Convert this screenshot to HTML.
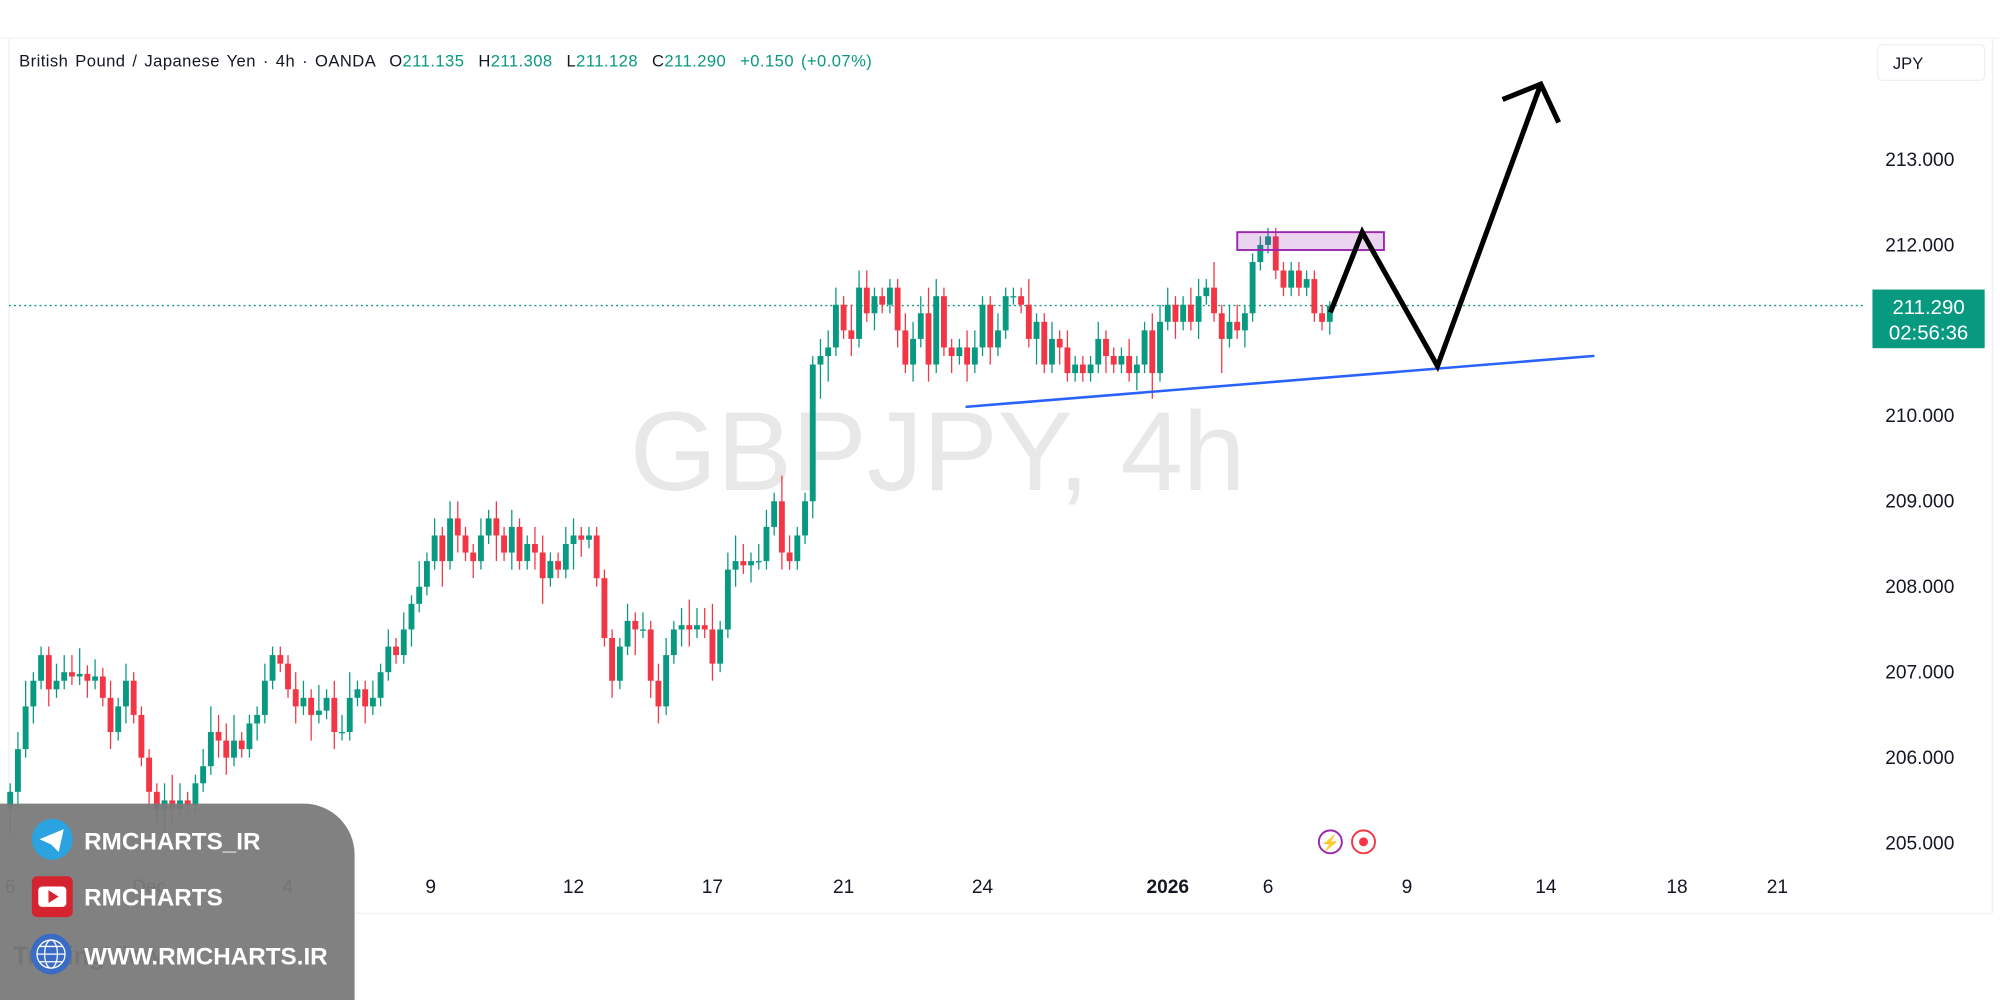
<!DOCTYPE html>
<html><head><meta charset="utf-8"><style>
html,body{margin:0;padding:0;background:#fff;}
svg{display:block;font-family:"Liberation Sans",sans-serif;}
</style></head><body>
<svg id="chart" width="2000" height="1000" viewBox="0 0 1568 784" xmlns="http://www.w3.org/2000/svg">
<rect x="0" y="0" width="1568" height="784" fill="#fff"/>
<line x1="0" y1="30" x2="1568" y2="30" stroke="#f0f3fa"/>
<line x1="7" y1="30" x2="7" y2="716" stroke="#eef0f4"/>
<line x1="7" y1="716" x2="1562" y2="716" stroke="#eef0f4"/>
<line x1="1562" y1="30" x2="1562" y2="716" stroke="#eef0f4"/>
<text x="735" y="384" font-size="88" fill="#e8e8e8" text-anchor="middle">GBPJPY, 4h</text>
<g id="grid"></g>
<g id="xaxis"></g>
<line id="lastline" x1="7" x2="1462" stroke="#089981" stroke-dasharray="1.5,2.5" stroke-width="1"/>
<g id="candles"></g>
<rect x="970" y="182" width="115" height="14" fill="#9c27b0" fill-opacity="0.2" stroke="#9c27b0" stroke-width="1.5"/>
<line x1="757" y1="319" x2="1250" y2="279" stroke="#2962ff" stroke-width="2"/>
<polyline points="1043,245 1068,182 1127,287 1208,66" fill="none" stroke="#000" stroke-width="4" stroke-linejoin="miter"/>
<polyline points="1178,78 1208,66 1222,96" fill="none" stroke="#000" stroke-width="4"/>
<text x="15" y="52" font-size="13" letter-spacing="0.35" word-spacing="1.5" fill="#131722" xml:space="preserve">British Pound / Japanese Yen · 4h · OANDA  O<tspan fill="#089981">211.135</tspan>  H<tspan fill="#089981">211.308</tspan>  L<tspan fill="#089981">211.128</tspan>  C<tspan fill="#089981">211.290</tspan>  <tspan fill="#089981">+0.150 (+0.07%)</tspan></text>
<rect x="1472" y="35" width="84" height="28" rx="4" fill="#fff" stroke="#eef0f4"/>
<text x="1484" y="54" font-size="13" fill="#131722">JPY</text>
<rect x="1468" y="227" width="88" height="46" fill="#089981"/>
<text x="1512" y="246" font-size="16" fill="#fff" text-anchor="middle">211.290</text>
<text x="1512" y="266" font-size="16" fill="#fff" text-anchor="middle">02:56:36</text>
<circle cx="1043" cy="660" r="9" fill="#fff" stroke="#9c27b0" stroke-width="1.5"/>
<text x="1043" y="665" font-size="12" fill="#9c27b0" text-anchor="middle">⚡</text>
<circle cx="1069" cy="660" r="9" fill="#fff" stroke="#f23645" stroke-width="1.5"/>
<circle cx="1069" cy="660" r="3.5" fill="#f23645"/>
<text x="10" y="756" font-size="20" font-weight="bold" fill="#131722">TradingView</text>
<path d="M0,630 H238 A40,40 0 0 1 278,670 V784 H0 Z" fill="#7a7a7a" fill-opacity="0.95"/>
<circle cx="41" cy="658" r="16" fill="#2aa3e0"/>
<path d="M31,658 L50,650 L46,668 L40,662 Z" fill="#fff"/>
<text x="66" y="666" font-size="19" font-weight="bold" fill="#fff">RMCHARTS_IR</text>
<rect x="25" y="687" width="32" height="32" rx="4" fill="#d5232f"/>
<rect x="30" y="695" width="22" height="16" rx="3" fill="#fff"/>
<path d="M38,698 L46,703 L38,708 Z" fill="#d5232f"/>
<text x="66" y="710" font-size="19" font-weight="bold" fill="#fff">RMCHARTS</text>
<circle cx="40" cy="748" r="16" fill="#3b6cc4"/>
<g stroke="#fff" stroke-width="1" fill="none"><circle cx="40" cy="748" r="11"/><ellipse cx="40" cy="748" rx="5" ry="11"/><line x1="29" y1="748" x2="51" y2="748"/><line x1="31" y1="742" x2="49" y2="742"/><line x1="31" y1="754" x2="49" y2="754"/></g>
<text x="66" y="756" font-size="19" font-weight="bold" fill="#fff">WWW.RMCHARTS.IR</text>
</svg>
<script>
const priceTicks = [213, 212, 211, 210, 209, 208, 207, 206, 205];
const priceLabels = ["213.000","212.000","","210.000","209.000","208.000","207.000","206.000","205.000"];
const dateLabels = ["6","Dec","4","9","12","17","21","24","2026","6","9","14","18","21"];
const dateIndex = [0, 18, 36, 54.5, 73, 91, 108, 126, 150, 163, 181, 199, 216, 229];
const lastPrice = 211.29;
const openFirst = 205.4;
const closes = [
205.6,206.1,206.6,206.9,207.2,206.8,206.9,207.0,206.95,206.98,206.9,206.95,
206.7,206.3,206.6,206.9,206.5,206.0,205.6,
205.4,205.5,205.4,205.5,205.45,205.7,205.9,206.3,206.2,206.0,206.2,206.1,
206.4,206.5,206.9,207.2,207.1,206.8,206.6,
206.7,206.5,206.55,206.7,206.3,206.3,206.7,206.8,206.6,206.7,
207.0,207.3,207.2,207.5,207.8,208.0,208.3,208.6,208.3,
208.8,208.6,208.4,208.3,208.6,208.8,208.6,208.4,208.7,208.3,208.5,208.4,208.1,208.3,208.2,208.5,208.6,208.55,208.6,
208.1,207.4,206.9,207.3,207.6,207.5,207.5,206.9,206.6,207.2,207.5,207.55,207.5,207.55,207.5,
207.1,207.5,208.2,208.3,208.25,208.3,208.3,208.7,209.0,208.4,208.3,208.6,209.0,
210.6,210.7,210.8,211.3,211.0,210.9,211.5,211.2,211.4,211.3,
211.5,211.0,210.6,210.9,211.2,210.6,211.4,210.8,210.7,210.8,210.6,
210.8,211.3,210.8,211.0,211.4,211.4,211.3,210.9,211.1,210.6,210.9,210.8,210.5,210.6,210.5,
210.6,210.9,210.7,210.6,210.7,210.5,210.6,211.0,210.5,211.1,211.3,211.1,
211.3,211.1,211.4,211.5,211.2,210.9,211.1,211.0,211.2,211.8,212.0,212.1,
211.7,211.5,211.7,211.5,211.6,211.2,211.1,211.29];
const wickUp = [0.1,0.2,0.3,0.1,0.1,0.1,0.2,0.2,0.2,0.3,0.1,0.2, 0.1,0.2,0.1,0.2,0.1,0.1,0.1, 0.1,0.2,0.3,0.2,0.1,0.1,0.2,0.3,0.2,0.2,0.3,0.1, 0.1,0.1,0.2,0.1,0.1,0.1,0.2, 0.2,0.1,0.3,0.1,0.2,0.2,0.3,0.1,0.1,0.2, 0.1,0.2,0.1,0.2,0.1,0.3,0.1,0.2,0.1, 0.2,0.2,0.1,0.1,0.2,0.1,0.2,0.1,0.2,0.1,0.1,0.2,0.2,0.1,0.1,0.2,0.2,0.1,0.1, 0.1,0.1,0.1,0.1,0.2,0.1,0.2,0.1,0.2,0.2,0.1,0.2,0.3,0.2,0.2, 0.3,0.1,0.2,0.3,0.2,0.1,0.2,0.2,0.1,0.3,0.2,0.1,0.1, 0.1,0.2,0.2,0.2,0.1,0.3,0.2,0.2,0.1,0.1, 0.1,0.1,0.2,0.2,0.2,0.3,0.2,0.1,0.1,0.1,0.2, 0.2,0.1,0.1,0.2,0.1,0.1,0.1,0.3,0.1,0.1,0.2,0.1,0.2,0.1,0.1, 0.1,0.2,0.1,0.1,0.1,0.2,0.1,0.1,0.2,0.2,0.2,0.1, 0.1,0.2,0.2,0.1,0.3,0.1,0.2,0.2,0.1,0.1,0.1,0.1, 0.1,0.1,0.1,0.1,0.1,0.1,0.1,0.05];
const wickDn = [0.3,0.2,0.1,0.2,0.1,0.2,0.1,0.1,0.1,0.1,0.2,0.1, 0.1,0.2,0.1,0.2,0.1,0.1,0.2, 0.2,0.3,0.2,0.1,0.1,0.1,0.1,0.1,0.2,0.2,0.1,0.1, 0.1,0.2,0.1,0.1,0.1,0.1,0.2, 0.1,0.3,0.1,0.1,0.2,0.1,0.1,0.1,0.2,0.1, 0.1,0.1,0.1,0.1,0.2,0.1,0.1,0.1,0.3, 0.1,0.2,0.1,0.2,0.1,0.1,0.3,0.1,0.2,0.1,0.1,0.2,0.3,0.1,0.1,0.1,0.3,0.2,0.1, 0.1,0.1,0.2,0.1,0.1,0.3,0.1,0.2,0.2,0.1,0.1,0.2,0.2,0.1,0.1, 0.2,0.1,0.1,0.2,0.1,0.2,0.1,0.1,0.1,0.2,0.1,0.1,0.1, 0.2,0.4,0.3,0.1,0.1,0.2,0.1,0.1,0.2,0.1, 0.1,0.2,0.1,0.2,0.1,0.2,0.1,0.1,0.2,0.1,0.2, 0.1,0.1,0.2,0.1,0.1,0.1,0.1,0.1,0.3,0.1,0.1,0.2,0.1,0.1,0.1, 0.1,0.1,0.2,0.1,0.1,0.1,0.2,0.1,0.3,0.1,0.1,0.2, 0.1,0.1,0.2,0.1,0.1,0.4,0.1,0.1,0.2,0.1,0.1,0.1, 0.1,0.1,0.1,0.1,0.1,0.1,0.1,0.15];

const NS = "http://www.w3.org/2000/svg";
function yOf(p){ return 125 + (213 - p) * 67; }
function xOf(i){ return 8 + i * 6.05; }

const grid = document.getElementById('grid');
priceTicks.forEach((p, k) => {
  if (!priceLabels[k]) return;
  const t = document.createElementNS(NS, 'text');
  
  
  t.setAttribute('x', 1478); t.setAttribute('y', yOf(p) + 5);
  t.setAttribute('font-size', '15'); t.setAttribute('fill', '#131722');
  t.textContent = priceLabels[k];
  grid.appendChild(t);
});
const xaxis = document.getElementById('xaxis');
dateLabels.forEach((d, k) => {
  const t = document.createElementNS(NS, 'text');
  
  
  t.setAttribute('x', xOf(dateIndex[k])); t.setAttribute('y', 700);
  t.setAttribute('font-size', '15'); t.setAttribute('fill', '#131722');
  t.setAttribute('text-anchor', 'middle');
  if (d === '2026') t.setAttribute('font-weight', 'bold');
  t.textContent = d;
  xaxis.appendChild(t);
});
const ll = document.getElementById('lastline');
ll.setAttribute('y1', yOf(lastPrice)); ll.setAttribute('y2', yOf(lastPrice));

const cg = document.getElementById('candles');
closes.forEach((c, i) => {
  const o = i === 0 ? openFirst : closes[i-1];
  const hi = Math.max(o, c) + wickUp[i];
  const lo = Math.min(o, c) - wickDn[i];
  const col = c >= o ? '#089981' : '#f23645';
  const x = xOf(i);
  const w = document.createElementNS(NS, 'line');
  
  
  w.setAttribute('x1', x); w.setAttribute('x2', x);
  w.setAttribute('y1', yOf(hi)); w.setAttribute('y2', yOf(lo));
  w.setAttribute('stroke', col); w.setAttribute('stroke-width', '1');
  cg.appendChild(w);
  const b = document.createElementNS(NS, 'rect');
  
  
  const top = yOf(Math.max(o, c)), bot = yOf(Math.min(o, c));
  b.setAttribute('x', x - 2.3); b.setAttribute('width', 4.6);
  b.setAttribute('y', top); b.setAttribute('height', Math.max(1, bot - top));
  b.setAttribute('fill', col);
  cg.appendChild(b);
});
</script>
</body></html>
